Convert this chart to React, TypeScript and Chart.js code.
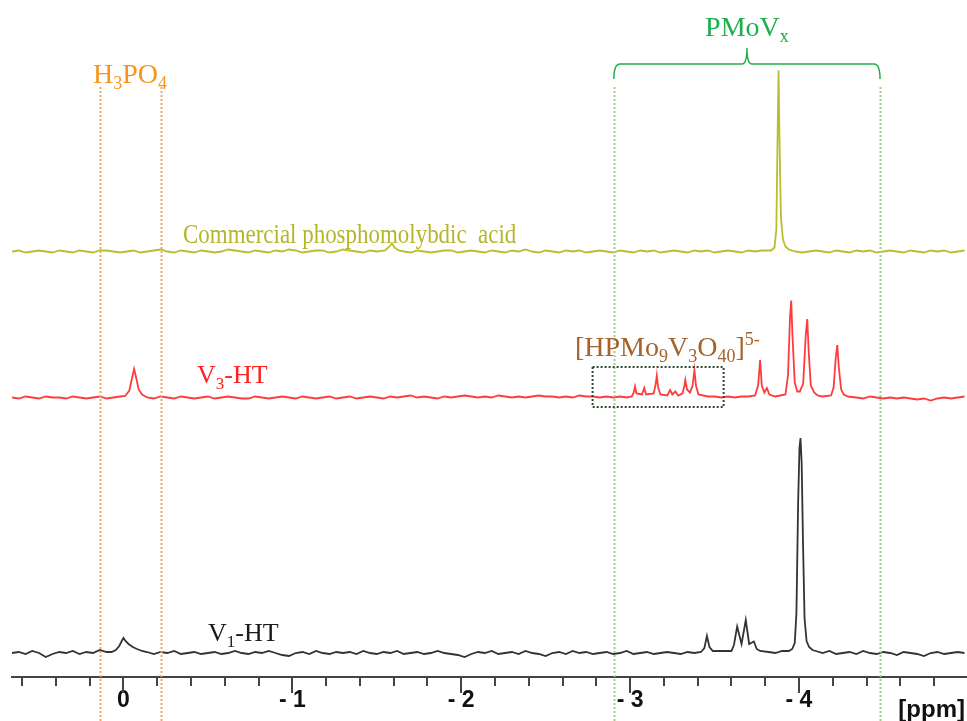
import React, { useEffect, useRef } from 'react';
import { Chart, registerables } from 'chart.js';

Chart.register(...registerables);

// ---- sampling of the baseline (ppm), descending ----
const GRID_START = 0.66;
const GRID_STEP = 0.04;

// ---- baseline noise (relative intensity) ----
const commercialNoise = [
  0, 1, -1, 0, 1, 0, -1, 1, 0, -1,
  1, 0, -1, 1, 1, 0, -1, 0, 1, -1,
  0, 1, 2, 0, -1, 1, 0, -1, 1, 0,
  -1, 0, 2, 1, 0, -1, 1, 0, -1, 1,
  0, 2, 1, -1, 0, 1, 1, -1, 0, 2,
  1, 0, -1, 1, 0, -1, 1, 2, 0, -1,
  1, 0, -1, 0, 1, 1, -1, 0, 1, 0,
  -1, 1, 0, -1, 1, 0, 2, 0, -1, 1,
  0, -1, 1, 0, 1, -1, 0, 1, 0, -1,
  1, 0, -1, 1, 0, 1, -1, 0, 1, 0,
  -1, 1, 0, 1, -1, 0, 1, 0, -1, 1,
  0, 1, -1, 0, 1, 1, 0, -1, 0, 1,
  0, -1, 1, 0, -1, 1, 0, 1, -1, 0,
  1, 0, -1, 1, 0, -1, 1, 0, 1, -1, 0, 1,
];
const v3Noise = [
  0, -1, 1, 0, -1, 1, 0, 0, -1, 1,
  0, -1, 0, 1, -1, 0, 1, -1, 0, 1,
  0, -1, 1, 0, -1, 1, 0, -1, 0, 1,
  -1, 0, 1, 0, -1, -1, 1, 0, -1, 0,
  1, 0, -1, 1, 0, -1, 0, 1, -1, 0,
  1, -1, 0, 1, 0, -1, 1, 0, 1, 2,
  0, 1, 0, -1, 1, 0, 1, 2, 1, 0,
  1, 0, 2, 1, 0, 1, 0, 1, 2, 1,
  1, 0, 1, 0, 2, 1, 1, 0, 1, 0,
  1, 0, 1, 0, 1, 0, 1, 1, 0, 1,
  0, 1, 2, 1, 1, 0, 1, 0, 1, 1,
  0, 1, 0, 1, 1, 0, 1, 0, -1, 0,
  1, 0, -1, 0, -1, 0, -1, 1, 0, -1,
  0, -1, 0, -1, -2, -1, -3, -1, 0, -1, 0, 1,
];
const v1Noise = [
  0, 1, -1, 2, 0, -4, -1, 1, 0, 2,
  -1, 1, 0, 3, 1, 0, 0, 0, 1, -1,
  0, -1, 1, 0, 2, -1, 0, 1, -1, 0,
  1, -1, 0, 2, 0, -1, 1, 0, 2, 0,
  -2, -3, 0, 1, -1, 2, 0, -1, 1, 0,
  1, -1, 2, 0, -1, 1, 0, 2, -1, 0,
  1, -1, 0, 2, 0, -1, -2, -4, -1, 1,
  0, 2, -1, 0, 1, -1, 2, 0, -1, -3,
  0, 1, -1, 2, 0, 1, -1, 0, 1, -1,
  0, 2, -1, 0, 1, -1, 0, 1, 0, -1,
  1, 0, -1, 1, 0, 2, 1, -1, 0, 1,
  0, -1, 1, 0, 2, 0, 1, 0, -1, 1,
  0, 2, -1, 0, 1, -1, 2, 0, -1, 1,
  0, -2, 1, 0, -1, -3, 0, 1, -1, 0, 1, 0,
];

// ---- peaks (ppm, relative intensity) ----
const commercialPeakPpm = [-1.55, -1.575, -1.59, -1.605, -1.63,
  -3.835, -3.855, -3.866, -3.873, -3.879, -3.885, -3.893, -3.905, -3.92, -3.94];
const commercialPeakInt = [1, 5, 8, 4, 1,
  1, 4, 22, 110, 181, 110, 35, 12, 5, 2];

const v3PeakPpm = [
  -0.01, -0.035, -0.05, -0.063, -0.075, -0.09, -0.11,
  -3.01, -3.022, -3.029, -3.038,
  -3.07, -3.084, -3.095,
  -3.14, -3.152, -3.158, -3.166, -3.18,
  -3.22, -3.237, -3.25, -3.268, -3.285,
  -3.31, -3.322, -3.327, -3.337, -3.355, -3.37, -3.381, -3.39, -3.405,
  -3.74, -3.758, -3.77, -3.78, -3.795, -3.81, -3.825,
  -3.92, -3.935, -3.947, -3.954, -3.962, -3.975, -3.99, -4.005, -4.025, -4.04, -4.049, -4.058, -4.07, -4.09, -4.11,
  -4.19, -4.205, -4.218, -4.227, -4.236, -4.25, -4.265, -4.29,
];
const v3PeakInt = [
  1.5, 7, 19, 28.5, 20, 8, 3,
  1, 5, 11, 4,
  3, 9.5, 3,
  4, 14, 22, 10, 3,
  2, 7.5, 3, 6, 2,
  4, 12, 17.5, 8, 5, 12, 27.5, 12, 3,
  2, 12, 37.5, 12, 5, 9.5, 3,
  3, 22, 80, 97, 60, 15, 6, 6, 14, 62, 78.5, 45, 12, 5, 2,
  2, 10, 40, 52.5, 30, 8, 3, 1,
];

const v1PeakPpm = [
  0.07, 0.045, 0.025, 0.01, 0.0, -0.012, -0.03, -0.055, -0.08, -0.11, -0.14,
  -3.42, -3.44, -3.455, -3.47, -3.49,
  -3.6, -3.615, -3.634, -3.66, -3.685, -3.705, -3.733, -3.75, -3.77,
  -3.94, -3.96, -3.975, -3.985, -3.995, -4.003, -4.009, -4.016, -4.024, -4.033, -4.045, -4.06, -4.08, -4.1,
];
const v1PeakInt = [
  1, 3, 7, 12, 15, 12, 9, 6, 4, 2, 1,
  1, 5, 17, 6, 2,
  2, 8, 26.5, 9, 33, 9, 11.5, 4, 2,
  2, 4, 10, 40, 150, 205, 215, 190, 110, 35, 12, 6, 3, 2,
];

// vertical offsets of the stacked spectra
const OFFSET_COMMERCIAL = 425.5;
const OFFSET_V3 = 279.5;
const OFFSET_V1 = 24;

const X_MIN = -4.995;
const X_MAX = 0.66;
const Y_MAX = 677;
const MAJOR_TICKS = [0, -1, -2, -3, -4];

const H3PO4_LINES = [0.14, -0.223];
const PMOV_LINES = [-2.904, -4.48];
const BOX_RANGE = [-2.778, -3.554];

function buildSeries(noise: number[], peakPpm: number[], peakInt: number[], offset: number) {
  const pts: { x: number; y: number }[] = [];
  noise.forEach((n, i) => {
    const ppm = +(GRID_START - i * GRID_STEP).toFixed(3);
    if (peakPpm.some((p) => Math.abs(p - ppm) < 0.025)) return;
    pts.push({ x: ppm, y: offset + n });
  });
  peakPpm.forEach((p, i) => pts.push({ x: p, y: offset + peakInt[i] }));
  pts.sort((a, b) => b.x - a.x);
  return pts;
}

type Part = [string, number]; // 0 normal, 1 sub, 2 sup

function drawRich(ctx: CanvasRenderingContext2D, parts: Part[], x: number, y: number, size: number, color: string, align: 'left' | 'center' = 'left', scaleX = 1) {
  const fam = '"Liberation Serif", "Times New Roman", serif';
  const fontFor = (m: number) => `${m === 0 ? size : Math.round(size * 0.65)}px ${fam}`;
  let total = 0;
  parts.forEach(([t, m]) => { ctx.font = fontFor(m); total += ctx.measureText(t).width; });
  ctx.save();
  ctx.translate(x, y);
  ctx.scale(scaleX, 1);
  let cx = align === 'center' ? -total / 2 : 0;
  ctx.fillStyle = color;
  ctx.textAlign = 'left';
  ctx.textBaseline = 'alphabetic';
  parts.forEach(([t, m]) => {
    ctx.font = fontFor(m);
    const dy = m === 1 ? size * 0.22 : m === 2 ? -size * 0.38 : 0;
    ctx.fillText(t, cx, dy);
    cx += ctx.measureText(t).width;
  });
  ctx.restore();
}

const annotationPlugin = {
  id: 'nmrAnnotations',
  afterDraw(chart: any) {
    const { ctx } = chart;
    const xs = chart.scales.x;
    const px = (v: number) => xs.getPixelForValue(v);
    const H = chart.height;
    ctx.save();

    // longer integer ticks
    ctx.strokeStyle = '#444';
    ctx.lineWidth = 2;
    MAJOR_TICKS.forEach((v) => {
      const x = Math.round(px(v));
      ctx.beginPath();
      ctx.moveTo(x, xs.top + 8);
      ctx.lineTo(x, xs.top + 16);
      ctx.stroke();
    });

    // dotted guide lines
    ctx.setLineDash([2, 2]);
    ctx.lineWidth = 2;
    ctx.strokeStyle = '#f5a46a';
    H3PO4_LINES.forEach((v) => {
      const x = Math.round(px(v)) + 0.5;
      ctx.beginPath(); ctx.moveTo(x, 87); ctx.lineTo(x, H); ctx.stroke();
    });
    ctx.strokeStyle = '#9fcf86';
    PMOV_LINES.forEach((v) => {
      const x = Math.round(px(v)) + 0.5;
      ctx.beginPath(); ctx.moveTo(x, 87); ctx.lineTo(x, H); ctx.stroke();
    });

    // dotted box around the [HPMo9V3O40]5- signals
    ctx.strokeStyle = '#2c4a2c';
    const bx1 = px(BOX_RANGE[0]), bx2 = px(BOX_RANGE[1]);
    ctx.strokeRect(bx1, 367, bx2 - bx1, 40);
    ctx.setLineDash([]);

    // bracket over PMoVx region
    const x1 = px(PMOV_LINES[0]), x2 = px(PMOV_LINES[1]);
    const xc = (x1 + x2) / 2;
    ctx.strokeStyle = '#1fae4c';
    ctx.lineWidth = 1.5;
    ctx.beginPath();
    ctx.moveTo(x1, 79);
    ctx.quadraticCurveTo(x1, 64, x1 + 6, 64);
    ctx.lineTo(xc - 5, 64);
    ctx.quadraticCurveTo(xc, 64, xc, 48);
    ctx.quadraticCurveTo(xc, 64, xc + 5, 64);
    ctx.lineTo(x2 - 6, 64);
    ctx.quadraticCurveTo(x2, 64, x2, 79);
    ctx.stroke();

    // texts
    drawRich(ctx, [['PMoV', 0], ['x', 1]], xc, 36, 28, '#1fae4c', 'center');
    drawRich(ctx, [['H', 0], ['3', 1], ['PO', 0], ['4', 1]], 93, 83, 28, '#f7941d');
    drawRich(ctx, [['Commercial phosphomolybdic  acid', 0]], 183, 243, 27, '#b5b52a', 'left', 0.85);
    drawRich(ctx, [['V', 0], ['3', 1], ['-HT', 0]], 197, 383, 26, '#ff2020');
    drawRich(ctx, [['V', 0], ['1', 1], ['-HT', 0]], 208, 641, 26, '#1a1a1a');
    drawRich(ctx, [['[HPMo', 0], ['9', 1], ['V', 0], ['3', 1], ['O', 0], ['40', 1], [']', 0], ['5-', 2]], 575, 356, 28, '#a5622a');

    // axis unit
    ctx.fillStyle = '#111';
    ctx.font = 'bold 24px "Liberation Sans", Arial, sans-serif';
    ctx.textAlign = 'right';
    ctx.textBaseline = 'alphabetic';
    ctx.fillText('[ppm]', 965, 717);
    ctx.restore();
  },
};

export default function App() {
  const ref = useRef<HTMLCanvasElement>(null);
  useEffect(() => {
    if (!ref.current) return;
    const lineDs = (label: string, data: any[], color: string) => ({
      label, data, borderColor: color, borderWidth: 1.8, pointRadius: 0, tension: 0, fill: false,
    });
    const chart = new Chart(ref.current, {
      type: 'line',
      data: {
        datasets: [
          lineDs('Commercial phosphomolybdic acid', buildSeries(commercialNoise, commercialPeakPpm, commercialPeakInt, OFFSET_COMMERCIAL), '#bcbc30'),
          lineDs('V3-HT', buildSeries(v3Noise, v3PeakPpm, v3PeakInt, OFFSET_V3), '#ff3c3c'),
          lineDs('V1-HT', buildSeries(v1Noise, v1PeakPpm, v1PeakInt, OFFSET_V1), '#333333'),
        ],
      },
      options: {
        responsive: false,
        animation: false,
        devicePixelRatio: 1,
        layout: { padding: { left: 12, right: 0, top: 0, bottom: 0 } },
        plugins: { legend: { display: false }, tooltip: { enabled: false } },
        scales: {
          x: {
            type: 'linear',
            reverse: true,
            min: X_MIN,
            max: X_MAX,
            position: 'bottom',
            afterFit: (s: any) => { s.height = 44; },
            border: { display: true, color: '#444', width: 2 },
            grid: { display: true, drawOnChartArea: false, drawTicks: true, tickLength: 9, color: '#444', lineWidth: 2 },
            ticks: {
              stepSize: 0.2,
              includeBounds: false,
              autoSkip: false,
              maxRotation: 0,
              minRotation: 0,
              padding: 1,
              color: '#111',
              font: { family: '"Liberation Sans", Arial, sans-serif', weight: 'bold', size: 23 },
              callback: (v: any) => {
                const n = Number(v);
                if (Math.abs(n - Math.round(n)) > 1e-6) return '';
                const r = Math.round(n);
                return r === 0 ? '0' : '- ' + Math.abs(r);
              },
            },
          },
          y: { type: 'linear', display: false, min: 0, max: Y_MAX },
        },
      },
      plugins: [annotationPlugin],
    } as any);
    return () => chart.destroy();
  }, []);
  return (
    <div style={{ position: 'fixed', left: 0, top: 0, width: 967, height: 721, background: '#fff' }}>
      <canvas ref={ref} width={967} height={721} style={{ display: 'block' }} />
    </div>
  );
}
